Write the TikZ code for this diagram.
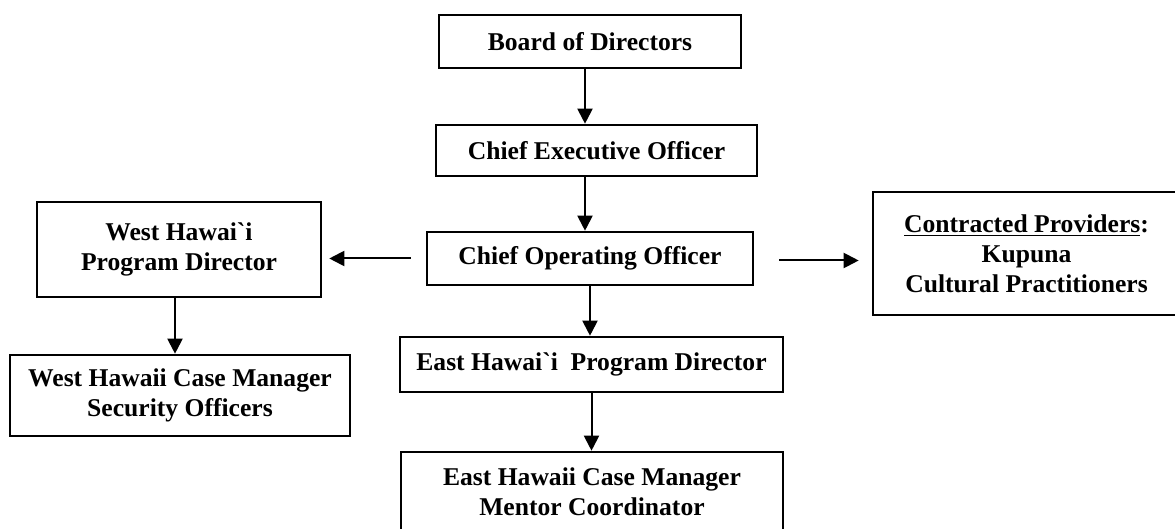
\documentclass[tikz,border=0pt]{standalone}
\usepackage{fontspec}
\setmainfont{Liberation Serif}
\usetikzlibrary{arrows.meta}
\begin{document}
\begin{tikzpicture}[x=0.5pt,y=-0.5pt,
    box/.style={draw,line width=1.3pt,rectangle,align=center,inner sep=0pt,
      font=\fontsize{12.8}{15}\selectfont\bfseries},
    arr/.style={line width=1pt,-{Triangle[length=7.5pt,width=7.5pt]}}]
    \useasboundingbox (0,0) rectangle (1175,529);
    \node[box,minimum width=151pt,minimum height=26.5pt] (board) at (590,41.5) {Board of Directors};
    \node[box,minimum width=160.5pt,minimum height=25.5pt] (ceo) at (596.5,150.5) {Chief Executive Officer};
    \node[box,minimum width=163pt,minimum height=26.5pt] (coo) at (590,258.5) {Chief Operating Officer};
    \node[box,minimum width=142pt,minimum height=47.5pt] (west) at (179,249.5)
    {West Hawai\textasciigrave{}i\\Program Director};
    \node[box,minimum width=170pt,minimum height=40.5pt] (westcm) at (180,395.5)
    {West Hawaii Case Manager\\Security Officers};
    \node[box,minimum width=153.5pt,minimum height=61.5pt] (prov) at (1026.5,253.5)
    {\underline{Contracted Providers}:\\Kupuna\\Cultural Practitioners};
    \node[box,minimum width=191.5pt,minimum height=27.5pt] (eastpd) at (591.5,364.5)
    {East Hawai\textasciigrave{}i\ \ Program Director};
    \node[box,minimum width=191pt,minimum height=40pt] (eastcm) at (592,492)
    {East Hawaii Case Manager\\Mentor Coordinator};
    % vertical links
    \draw[arr] ([xshift=-2.5pt]board.south) -- ([xshift=-2.5pt]board.south |- ceo.north);
    \draw[arr] ([xshift=-2.5pt]coo.north |- ceo.south) -- ([xshift=-2.5pt]coo.north);
    \draw[arr] (coo.south) -- (coo.south |- eastpd.north);
    \draw[arr] (eastpd.south) -- (eastpd.south |- eastcm.north);
    \draw[arr] ([xshift=-2pt]west.south) -- ([xshift=-2pt]west.south |- westcm.north);
    % side links
    \draw[arr,shorten <=7.5pt,shorten >=3.5pt] (coo.west) -- (coo.west -| west.east);
    \draw[arr,shorten <=12.5pt,shorten >=6.5pt] ([yshift=-1pt]coo.east) -- ([yshift=-1pt]coo.east -| prov.west);
\end{tikzpicture}
\end{document}
